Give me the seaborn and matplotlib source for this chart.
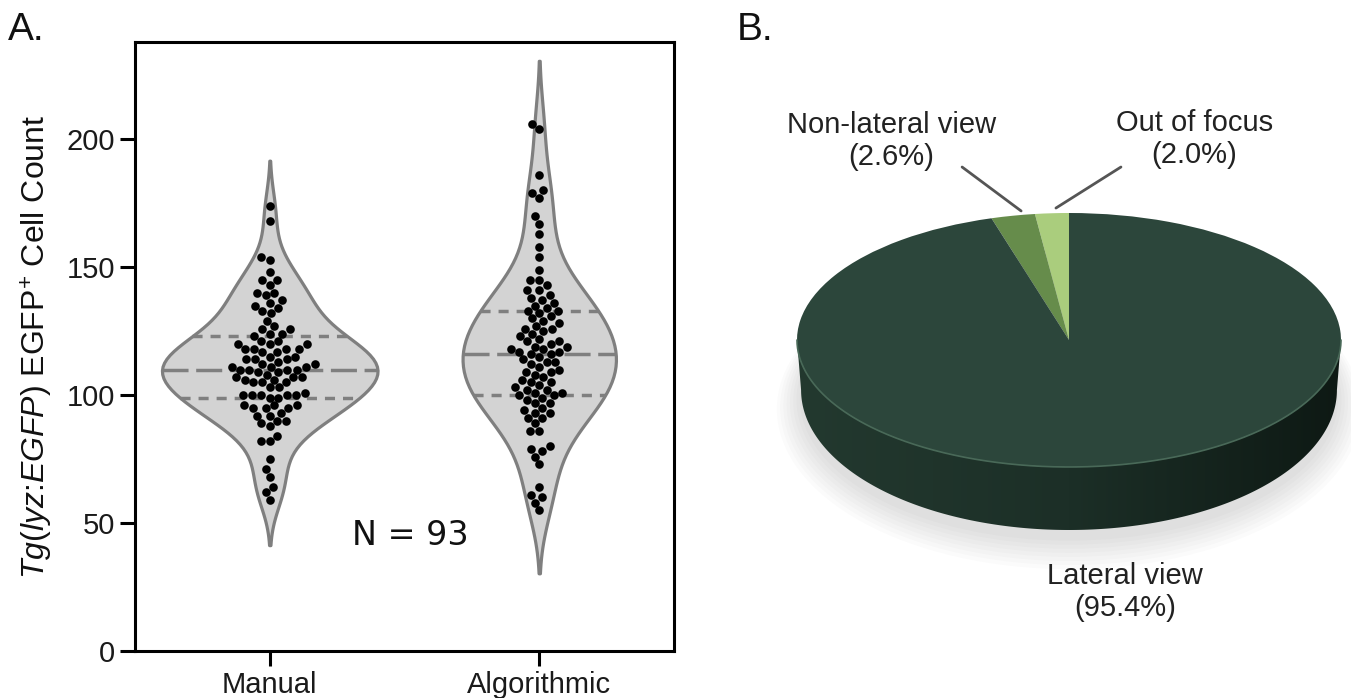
import numpy as np
import pandas as pd
import matplotlib
matplotlib.use("Agg")
import matplotlib.pyplot as plt
import seaborn as sns
from matplotlib.colors import LinearSegmentedColormap
from matplotlib.patches import Polygon, Ellipse

# cell counts (93 larvae per method)
manual_counts = [174, 168, 154, 153, 148, 145, 145, 143, 140, 140, 139, 137, 136, 135, 134,
                 133, 132, 129, 127, 126, 126, 124, 124, 123, 121, 121, 120, 120, 120, 118,
                 118, 118, 118, 117, 117, 115, 115, 114, 114, 114, 113, 112, 112, 111, 111,
                 111, 110, 110, 110, 110, 109, 109, 108, 107, 107, 107, 106, 106, 105, 105,
                 105, 103, 103, 101, 100, 100, 100, 100, 100, 99, 99, 96, 96, 96, 95,
                 95, 95, 93, 92, 92, 90, 90, 89, 88, 84, 82, 82, 75, 71, 68,
                 64, 62, 59]
algorithmic_counts = [206, 204, 186, 180, 179, 177, 170, 167, 163, 158, 154, 149, 145, 145, 143,
                      141, 141, 139, 138, 137, 136, 135, 134, 133, 133, 132, 131, 130, 129, 128,
                      127, 126, 126, 125, 124, 123, 122, 121, 121, 120, 119, 119, 118, 118, 117,
                      117, 116, 116, 115, 114, 113, 113, 112, 111, 110, 109, 109, 108, 107, 106,
                      105, 105, 104, 103, 102, 102, 101, 101, 100, 100, 99, 98, 97, 97, 95,
                      94, 93, 93, 91, 91, 89, 86, 86, 80, 79, 78, 76, 73, 64, 61,
                      60, 58, 55]
methods = ["Manual", "Algorithmic"]

pie_labels = ["Out of focus", "Non-lateral view", "Lateral view"]
pie_values = [2.0, 2.6, 95.4]
pie_colors = ["#aacd7d", "#668c4b", "#2c463b"]

sns.set_style("ticks")
plt.rcParams["font.family"] = ["Liberation Sans", "DejaVu Sans"]
plt.rcParams["mathtext.fontset"] = "custom"
plt.rcParams["mathtext.rm"] = "Liberation Sans"
plt.rcParams["mathtext.it"] = "Liberation Sans:italic"

df = pd.DataFrame({
    "method": ["Manual"] * len(manual_counts) + ["Algorithmic"] * len(algorithmic_counts),
    "count": manual_counts + algorithmic_counts,
})

fig = plt.figure(figsize=(13.51, 6.98), dpi=100)

# ---- A. violin + swarm
ax = fig.add_axes([135 / 1351, 47 / 698, 539 / 1351, 609 / 698])
sns.violinplot(data=df, x="method", y="count", order=methods, color="lightgray", saturation=1,
               linecolor="gray", linewidth=2.3, inner="quart", inner_kws=dict(linewidth=2.5), ax=ax)
# quartiles short dashes, median long dashes
for i, ln in enumerate(ax.lines):
    ln.set_dashes([7.5, 2.2] if i % 3 == 1 else [2.9, 2.3])
sns.swarmplot(data=df, x="method", y="count", order=methods, color="black", size=6.2, ax=ax)
ax.set_xlim(-0.5, 1.5)
ax.set_ylim(0, 238)
ax.set_yticks([0, 50, 100, 150, 200])
ax.set_xlabel("")
ax.set_ylabel(r"$\mathit{Tg(lyz}$:$\mathit{EGFP)}$ EGFP$^{+}$ Cell Count", fontsize=23,
              labelpad=8, color="#111111")
for s in ax.spines.values():
    s.set_visible(True)
    s.set_linewidth(2.2)
    s.set_color("black")
ax.tick_params(length=11, width=2.2, labelsize=21, color="black", labelcolor="#1a1a1a")
ax.text(0.52, 45, f"N = {len(manual_counts)}", fontsize=24, family="DejaVu Sans",
        ha="center", va="center", color="#111111")

# ---- B. 3d-looking pie
pax = fig.add_axes([720 / 1351, 0, 631 / 1351, 638 / 698])
theta = np.linspace(np.pi, 2 * np.pi, 300)

for i in range(8):
    pax.add_patch(Ellipse((0, -0.46 - 0.012 * i), 2 * (0.99 + 0.012 * i), 2 * (1.12 + 0.02 * i),
                          facecolor="gray", edgecolor="none", alpha=0.03, zorder=0))

side_x = np.r_[np.cos(theta), 0.985 * np.cos(theta[::-1])]
side_y = np.r_[np.sin(theta), -0.394 + 1.102 * np.sin(theta[::-1])]
side = Polygon(np.column_stack([side_x, side_y]), closed=True, facecolor="none", edgecolor="none")
pax.add_patch(side)
cmap = LinearSegmentedColormap.from_list("side", ["#23392f", "#1c2f27", "#0e1914"])
im = pax.imshow(np.linspace(0, 1, 256).reshape(1, -1), extent=[-1, 1, -1.6, 0.05],
                cmap=cmap, aspect="auto", zorder=1)
im.set_clip_path(side)

pax.pie(pie_values, colors=pie_colors, startangle=90, counterclock=True,
        wedgeprops=dict(linewidth=0, zorder=2))
pax.plot(np.cos(theta), np.sin(theta), color="#496958", lw=1.2, zorder=3)

pax.plot([-0.393, -0.176], [1.362, 1.016], color="#555555", lw=2)
pax.plot([0.191, -0.048], [1.362, 1.039], color="#555555", lw=2)
label_pos = [(0.46, 1.583), (-0.654, 1.567), (0.206, -1.984)]
for lab, val, (tx, ty) in zip(pie_labels, pie_values, label_pos):
    pax.text(tx, ty, f"{lab}\n({val:.1f}%)", ha="center", va="center", fontsize=21,
             color="#222222", linespacing=1.15)

pax.set_aspect("auto")
pax.set_xlim(-1.2831, 1.0368)
pax.set_ylim(-2.8189, 2.2047)
pax.axis("off")

fig.text(8 / 1351, 1 - 12 / 698, "A.", fontsize=28, va="top", color="#111111")
fig.text(737 / 1351, 1 - 12 / 698, "B.", fontsize=28, va="top", color="#111111")

fig.savefig("out.png", dpi=100)
